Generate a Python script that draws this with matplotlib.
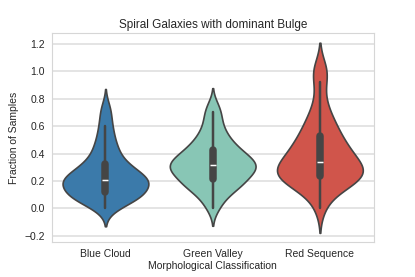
import matplotlib
matplotlib.use("Agg")
import matplotlib.pyplot as plt
import numpy as np
import pandas as pd
import seaborn as sns

categories = ["Blue Cloud", "Green Valley", "Red Sequence"]
colors = ["#3b7aaa", "#88c6b5", "#d0554b"]

blue_cloud = [0.00, 0.03, 0.05, 0.06, 0.07, 0.08, 0.09, 0.10, 0.10, 0.11,
              0.12, 0.14, 0.15, 0.16, 0.17, 0.18, 0.19, 0.20, 0.20, 0.21,
              0.21, 0.22, 0.23, 0.24, 0.25, 0.26, 0.28, 0.30, 0.31, 0.32,
              0.34, 0.37, 0.40, 0.43, 0.46, 0.50, 0.55, 0.60, 0.67, 0.74]
green_valley = [0.00, 0.05, 0.09, 0.12, 0.14, 0.16, 0.17, 0.18, 0.19, 0.20,
                0.22, 0.24, 0.25, 0.26, 0.27, 0.28, 0.29, 0.30, 0.30, 0.31,
                0.32, 0.33, 0.34, 0.35, 0.36, 0.37, 0.38, 0.40, 0.41, 0.42,
                0.44, 0.46, 0.48, 0.50, 0.53, 0.56, 0.60, 0.65, 0.70, 0.75]
red_sequence = [0.00, 0.08, 0.13, 0.16, 0.18, 0.19, 0.20, 0.21, 0.22, 0.22,
                0.24, 0.25, 0.26, 0.27, 0.28, 0.29, 0.30, 0.31, 0.32, 0.33,
                0.35, 0.37, 0.39, 0.40, 0.42, 0.43, 0.45, 0.47, 0.49, 0.52,
                0.54, 0.57, 0.60, 0.63, 0.67, 0.72, 0.80, 0.92, 1.00, 1.03]

groups = [blue_cloud, green_valley, red_sequence]
df = pd.DataFrame({
    "cls": np.repeat(categories, [len(g) for g in groups]),
    "frac": np.concatenate(groups),
})

sns.set_style("whitegrid", {"grid.color": "#e2e2e2", "axes.edgecolor": "#d6d6d6"})
plt.rcParams["font.family"] = ["Liberation Sans", "DejaVu Sans"]
plt.rcParams["grid.linewidth"] = 1.3

fig, ax = plt.subplots(figsize=(4.15, 2.77), dpi=100)
sns.violinplot(data=df, x="cls", y="frac", hue="cls", order=categories,
               hue_order=categories, palette=colors, saturation=1,
               bw_method=0.37, cut=2, density_norm="area", inner="box",
               linewidth=1.2, legend=False, ax=ax)

ax.set_title("Spiral Galaxies with dominant Bulge", fontsize=8.5, pad=4)
ax.set_xlabel("Morphological Classification", fontsize=7.5, labelpad=1)
ax.set_ylabel("Fraction of Samples", fontsize=7.5)
ax.tick_params(labelsize=7.5, pad=1.5)
ax.set_yticks([-0.2, 0.0, 0.2, 0.4, 0.6, 0.8, 1.0, 1.2])

fig.subplots_adjust(left=0.125, right=0.9, top=0.88, bottom=0.125)
fig.savefig("out.png", dpi=100)
